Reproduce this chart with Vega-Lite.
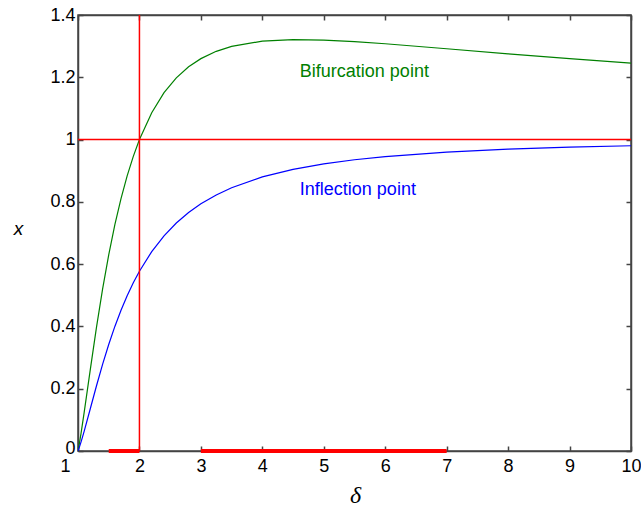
{
  "$schema": "https://vega.github.io/schema/vega-lite/v6.json",
  "width": 553,
  "height": 436,
  "autosize": {"type": "none"},
  "padding": {"left": 78, "top": 15, "right": 10, "bottom": 63},
  "background": "white",
  "config": {
    "view": {"stroke": "#444", "strokeWidth": 1.5},
    "font": "Liberation Sans",
    "axis": {
      "domainColor": "#444", "domainWidth": 1.5,
      "tickColor": "#444", "tickWidth": 1.5, "tickSize": -5,
      "labelFont": "Liberation Sans", "labelFontSize": 18, "labelColor": "black",
      "grid": false
    }
  },
  "datasets": {
    "curves": [
      {"delta": 1, "x": 0, "curve": "Bifurcation"},
      {"delta": 1.02, "x": 0.0216, "curve": "Bifurcation"},
      {"delta": 1.05, "x": 0.0577, "curve": "Bifurcation"},
      {"delta": 1.1, "x": 0.1233, "curve": "Bifurcation"},
      {"delta": 1.2, "x": 0.2615, "curve": "Bifurcation"},
      {"delta": 1.3, "x": 0.3961, "curve": "Bifurcation"},
      {"delta": 1.4, "x": 0.5197, "curve": "Bifurcation"},
      {"delta": 1.5, "x": 0.63, "curve": "Bifurcation"},
      {"delta": 1.6, "x": 0.7267, "curve": "Bifurcation"},
      {"delta": 1.7, "x": 0.8107, "curve": "Bifurcation"},
      {"delta": 1.8, "x": 0.8834, "curve": "Bifurcation"},
      {"delta": 1.9, "x": 0.9461, "curve": "Bifurcation"},
      {"delta": 2, "x": 1, "curve": "Bifurcation"},
      {"delta": 2.2, "x": 1.0864, "curve": "Bifurcation"},
      {"delta": 2.4, "x": 1.1505, "curve": "Bifurcation"},
      {"delta": 2.6, "x": 1.1981, "curve": "Bifurcation"},
      {"delta": 2.8, "x": 1.2336, "curve": "Bifurcation"},
      {"delta": 3, "x": 1.2599, "curve": "Bifurcation"},
      {"delta": 3.25, "x": 1.2834, "curve": "Bifurcation"},
      {"delta": 3.5, "x": 1.2993, "curve": "Bifurcation"},
      {"delta": 4, "x": 1.3161, "curve": "Bifurcation"},
      {"delta": 4.5, "x": 1.3211, "curve": "Bifurcation"},
      {"delta": 5, "x": 1.3195, "curve": "Bifurcation"},
      {"delta": 5.5, "x": 1.3145, "curve": "Bifurcation"},
      {"delta": 6, "x": 1.3077, "curve": "Bifurcation"},
      {"delta": 7, "x": 1.2917, "curve": "Bifurcation"},
      {"delta": 8, "x": 1.2754, "curve": "Bifurcation"},
      {"delta": 9, "x": 1.2599, "curve": "Bifurcation"},
      {"delta": 10, "x": 1.2457, "curve": "Bifurcation"},
      {"delta": 1, "x": 0, "curve": "Inflection"},
      {"delta": 1.02, "x": 0.0108, "curve": "Inflection"},
      {"delta": 1.05, "x": 0.0291, "curve": "Inflection"},
      {"delta": 1.1, "x": 0.0628, "curve": "Inflection"},
      {"delta": 1.2, "x": 0.1356, "curve": "Inflection"},
      {"delta": 1.3, "x": 0.2087, "curve": "Inflection"},
      {"delta": 1.4, "x": 0.2781, "curve": "Inflection"},
      {"delta": 1.5, "x": 0.342, "curve": "Inflection"},
      {"delta": 1.6, "x": 0.4, "curve": "Inflection"},
      {"delta": 1.7, "x": 0.452, "curve": "Inflection"},
      {"delta": 1.8, "x": 0.4986, "curve": "Inflection"},
      {"delta": 1.9, "x": 0.5402, "curve": "Inflection"},
      {"delta": 2, "x": 0.5774, "curve": "Inflection"},
      {"delta": 2.2, "x": 0.6403, "curve": "Inflection"},
      {"delta": 2.4, "x": 0.6909, "curve": "Inflection"},
      {"delta": 2.6, "x": 0.7321, "curve": "Inflection"},
      {"delta": 2.8, "x": 0.7658, "curve": "Inflection"},
      {"delta": 3, "x": 0.7937, "curve": "Inflection"},
      {"delta": 3.25, "x": 0.8223, "curve": "Inflection"},
      {"delta": 3.5, "x": 0.8454, "curve": "Inflection"},
      {"delta": 4, "x": 0.8801, "curve": "Inflection"},
      {"delta": 4.5, "x": 0.9044, "curve": "Inflection"},
      {"delta": 5, "x": 0.9221, "curve": "Inflection"},
      {"delta": 5.5, "x": 0.9353, "curve": "Inflection"},
      {"delta": 6, "x": 0.9455, "curve": "Inflection"},
      {"delta": 7, "x": 0.9597, "curve": "Inflection"},
      {"delta": 8, "x": 0.9691, "curve": "Inflection"},
      {"delta": 9, "x": 0.9755, "curve": "Inflection"},
      {"delta": 10, "x": 0.9801, "curve": "Inflection"}
    ],
    "labels": [
      {"delta": 4.61, "x": 1.217, "label": "Bifurcation point", "curve": "Bifurcation"},
      {"delta": 4.61, "x": 0.838, "label": "Inflection point", "curve": "Inflection"}
    ],
    "segments": [
      {"start": 1.5, "end": 2, "x": 0},
      {"start": 3, "end": 7, "x": 0}
    ]
  },
  "layer": [
    {
      "data": {"values": [{"delta": 1, "x": 0}]},
      "mark": {"type": "point", "opacity": 0},
      "encoding": {
        "x": {"field": "delta", "type": "quantitative", "scale": {"domain": [1, 10], "nice": false},
              "axis": {"orient": "top", "labels": false, "title": null, "values": [1,2,3,4,5,6,7,8,9,10]}},
        "y": {"field": "x", "type": "quantitative", "scale": {"domain": [0, 1.4], "nice": false},
              "axis": {"orient": "right", "labels": false, "title": null, "values": [0,0.2,0.4,0.6,0.8,1,1.2,1.4]}}
      }
    },
    {
      "layer": [
        {
          "data": {"name": "curves"},
          "mark": {"type": "line", "strokeWidth": 1.2, "clip": true},
          "encoding": {
            "x": {"field": "delta", "type": "quantitative", "scale": {"domain": [1, 10], "nice": false},
                  "axis": {"orient": "bottom", "title": "δ", "values": [1,2,3,4,5,6,7,8,9,10], "format": "~g",
                           "labelPadding": 11, "labelFlush": false, "labelOverlap": false,
                           "labelAlign": {"condition": {"test": "datum.value == 1", "value": "right"}, "value": "center"},
                           "labelOffset": {"condition": {"test": "datum.value == 1", "value": -8}, "value": 0},
                           "titleFont": "Liberation Serif", "titleFontStyle": "italic", "titleFontWeight": "normal",
                           "titleFontSize": 24, "titleColor": "black", "titleX": 277, "titleY": 44, "titleBaseline": "middle"}},
            "y": {"field": "x", "type": "quantitative", "scale": {"domain": [0, 1.4], "nice": false},
                  "axis": {"orient": "left", "title": "x", "values": [0,0.2,0.4,0.6,0.8,1,1.2,1.4], "format": "~g",
                           "labelPadding": 8, "labelFlush": false, "labelOverlap": false,
                           "labelOffset": {"condition": {"test": "datum.value == 0", "value": -3}, "value": 0},
                           "titleFont": "Liberation Sans", "titleFontStyle": "italic", "titleFontWeight": "normal",
                           "titleFontSize": 19, "titleColor": "black", "titleAngle": 0,
                           "titleX": -60, "titleY": 213, "titleAlign": "center", "titleBaseline": "middle"}},
            "color": {"field": "curve", "type": "nominal",
                      "scale": {"domain": ["Bifurcation", "Inflection"], "range": ["#008000", "#0000ff"]}, "legend": null},
            "detail": {"field": "curve"}
          }
        },
        {
          "data": {"values": [{"x": 1}]},
          "mark": {"type": "rule", "stroke": "#ff0000", "strokeWidth": 1.5, "opacity": 1},
          "encoding": {"y": {"field": "x", "type": "quantitative"}}
        },
        {
          "data": {"values": [{"delta": 2}]},
          "mark": {"type": "rule", "stroke": "#ff0000", "strokeWidth": 1.5, "opacity": 1},
          "encoding": {"x": {"field": "delta", "type": "quantitative"}}
        },
        {
          "data": {"name": "segments"},
          "mark": {"type": "rule", "stroke": "#ff0000", "strokeWidth": 4, "strokeCap": "butt", "opacity": 1},
          "encoding": {
            "x": {"field": "start", "type": "quantitative"},
            "x2": {"field": "end"},
            "y": {"field": "x", "type": "quantitative"}
          }
        },
        {
          "data": {"name": "labels"},
          "mark": {"type": "text", "align": "left", "baseline": "middle", "fontSize": 18, "font": "Liberation Sans"},
          "encoding": {
            "x": {"field": "delta", "type": "quantitative"},
            "y": {"field": "x", "type": "quantitative"},
            "text": {"field": "label"},
            "color": {"field": "curve", "type": "nominal",
                      "scale": {"domain": ["Bifurcation", "Inflection"], "range": ["#008000", "#0000ff"]}, "legend": null}
          }
        }
      ]
    }
  ],
  "resolve": {"scale": {"x": "independent", "y": "independent"}, "axis": {"x": "independent", "y": "independent"}}
}
